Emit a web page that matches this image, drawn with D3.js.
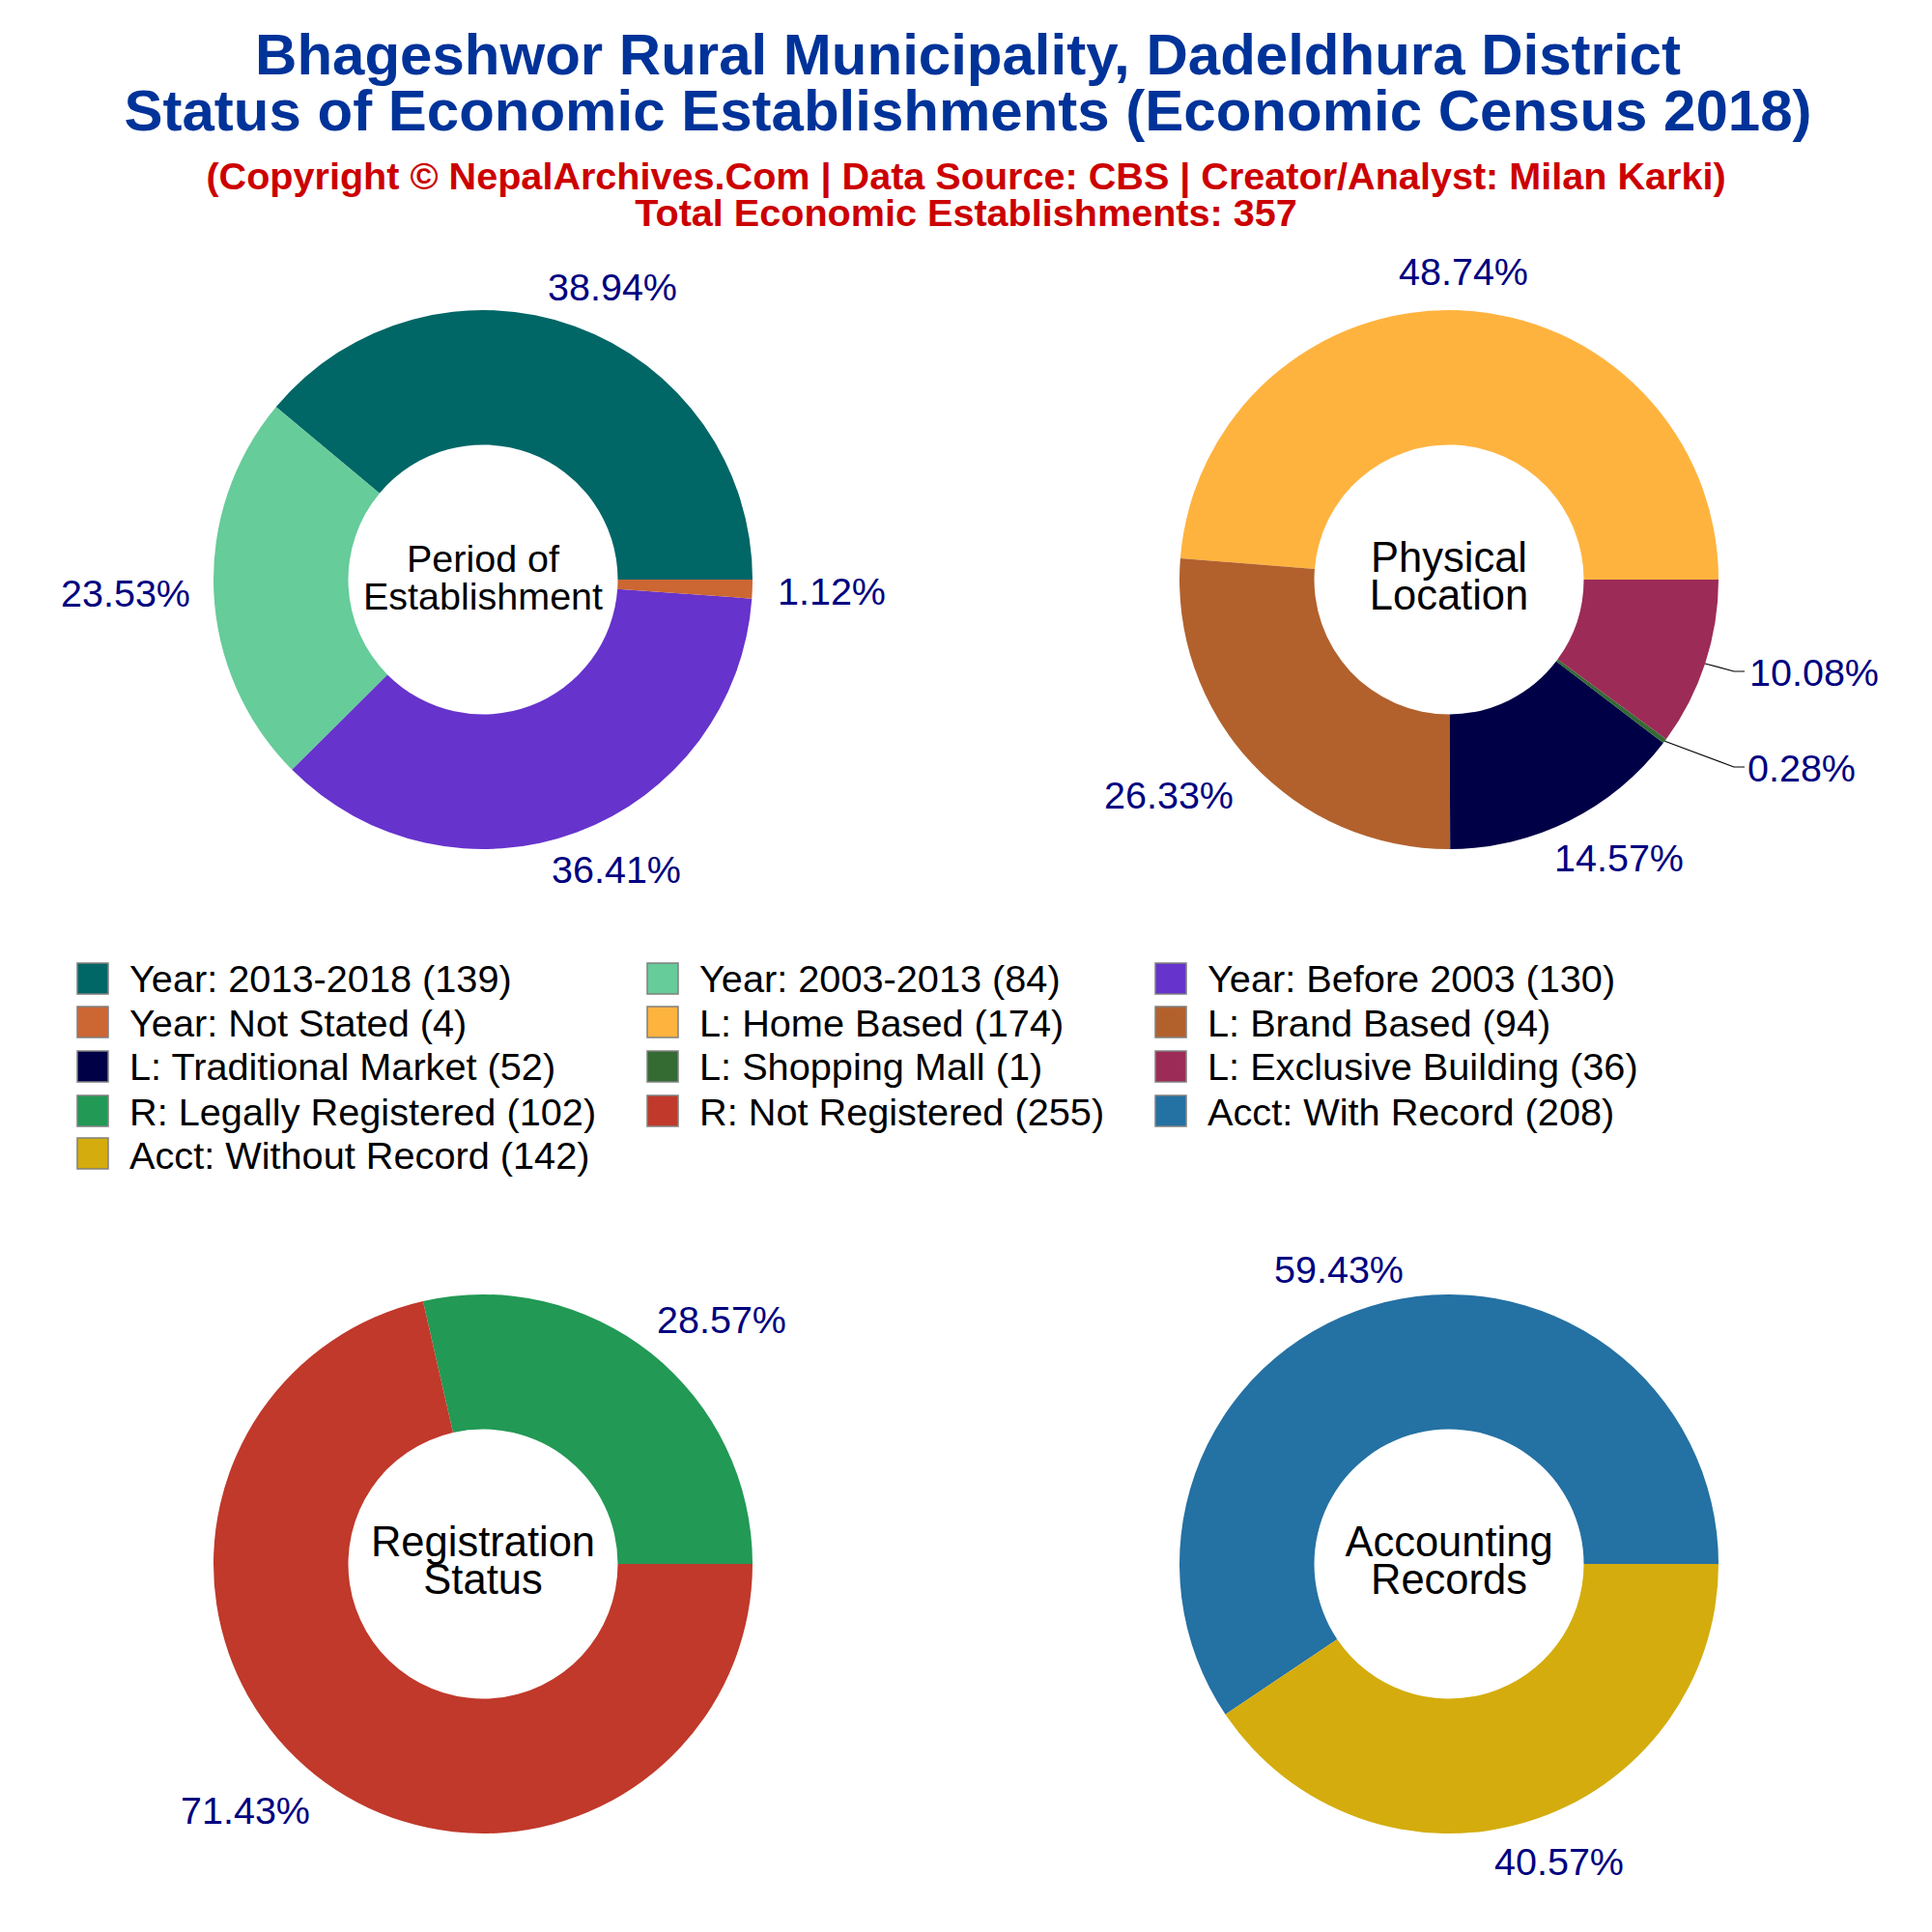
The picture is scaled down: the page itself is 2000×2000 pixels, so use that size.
<!DOCTYPE html>
<html><head><meta charset="utf-8">
<script src="https://cdnjs.cloudflare.com/ajax/libs/d3/7.8.5/d3.min.js"></script>
<style>html,body{margin:0;padding:0;background:#fff}svg{display:block}text{font-family:"Liberation Sans",Arial,sans-serif}</style>
</head><body><div id="c"></div>
<script>
const titleLines = ["Bhageshwor Rural Municipality, Dadeldhura District","Status of Economic Establishments (Economic Census 2018)"];
const subLines = ["(Copyright © NepalArchives.Com | Data Source: CBS | Creator/Analyst: Milan Karki)","Total Economic Establishments: 357"];

const periodLabels = ["Year: 2013-2018","Year: 2003-2013","Year: Before 2003","Year: Not Stated"];
const periodValues = [139,84,130,4];
const periodColors = ["#006666","#66CC99","#6633CC","#CC6633"];

const locationLabels = ["L: Home Based","L: Brand Based","L: Traditional Market","L: Shopping Mall","L: Exclusive Building"];
const locationValues = [174,94,52,1,36];
const locationColors = ["#FFB33F","#B2612D","#000047","#336B33","#9C2B57"];

const registrationLabels = ["R: Legally Registered","R: Not Registered"];
const registrationValues = [102,255];
const registrationColors = ["#229955","#C0392B"];

const accountLabels = ["Acct: With Record","Acct: Without Record"];
const accountValues = [208,142];
const accountColors = ["#2471A3","#D4AC0D"];

const periodCenter = ["Period of","Establishment"];
const locationCenter = ["Physical","Location"];
const registrationCenter = ["Registration","Status"];
const accountCenter = ["Accounting","Records"];

// layout only
const W=2000,H=2000,R=279,r0=139.5;
const panels=[
 {cx:500,cy:600,labels:periodLabels,values:periodValues,colors:periodColors,center:periodCenter,fs:39.5},
 {cx:1500,cy:600,labels:locationLabels,values:locationValues,colors:locationColors,center:locationCenter,fs:43.5,leader:[3,4]},
 {cx:500,cy:1619,labels:registrationLabels,values:registrationValues,colors:registrationColors,center:registrationCenter,fs:43.5},
 {cx:1500,cy:1619,labels:accountLabels,values:accountValues,colors:accountColors,center:accountCenter,fs:43.5}
];
// label centres relative to the pie centre
const labelCentres=[
 [[134,-303],[-370,14],[138,300],[361,12]],
 [[15,-319],[-290,223],[176,288],[365,195],[378,96]],
 [[247,-253],[-246,255]],
 [[-114,-305],[114,308]]
];
const svg=d3.select("#c").append("svg").attr("width",W).attr("height",H).attr("viewBox",`0 0 ${W} ${H}`);
svg.append("rect").attr("width",W).attr("height",H).attr("fill","#fff");

const tg=svg.append("g").attr("text-anchor","middle").attr("font-weight","bold");
tg.selectAll(".t").data(titleLines).join("text").attr("x",1002).attr("y",(d,i)=>77+i*58).attr("font-size",60).attr("fill","#003399").text(d=>d);
tg.selectAll(".s").data(subLines).join("text").attr("x",1000).attr("y",(d,i)=>196+i*38).attr("font-size",39.6).attr("fill","#CC0000").text(d=>d);

const pie=d3.pie().sort(null).startAngle(Math.PI/2).endAngle(Math.PI/2-2*Math.PI);
const arc=d3.arc().innerRadius(r0).outerRadius(R);
const fmt=(v,t)=>(100*v/t).toFixed(2)+"%";
panels.forEach((p,pi)=>{
  const g=svg.append("g").attr("transform",`translate(${p.cx},${p.cy})`);
  const color=d3.scaleOrdinal().domain(p.labels).range(p.colors);
  const total=d3.sum(p.values);
  const arcs=pie(p.values);
  g.selectAll("path.s").data(arcs).join("path").attr("class","s").attr("d",arc).attr("fill",(d,i)=>color(p.labels[i]));
  arcs.forEach((a,i)=>{
    const c=labelCentres[pi][i];
    g.append("text").attr("x",c[0]).attr("y",c[1]+14).attr("text-anchor","middle").attr("font-size",39.5).attr("fill","#000080").text(fmt(a.value,total));
    if(p.leader&&p.leader.includes(i)){
      const m=(a.startAngle+a.endAngle)/2;
      const ex=R*Math.sin(m),ey=-R*Math.cos(m);
      const lx=295,ly=c[1]-1;
      g.append("path").attr("d",`M${ex},${ey}L${lx},${ly}L${lx+11},${ly}`).attr("fill","none").attr("stroke","#000").attr("stroke-width",1.1);
    }
  });
  g.append("g").attr("text-anchor","middle").selectAll("text").data(p.center).join("text")
    .attr("x",0).attr("y",(d,i)=>-8+i*39).attr("font-size",p.fs).attr("fill","#000").text(d=>d);
});

// legend
const allLabels=[...periodLabels,...locationLabels,...registrationLabels,...accountLabels];
const allValues=[...periodValues,...locationValues,...registrationValues,...accountValues];
const allColors=[...periodColors,...locationColors,...registrationColors,...accountColors];
const colX=[80,670,1196],rowY=[997,1042,1088,1134,1178];
const rowText=[1027,1073,1118,1165,1210];
const lg=svg.append("g");
allLabels.forEach((l,i)=>{
  const x=colX[i%3],row=Math.floor(i/3);
  lg.append("rect").attr("x",x).attr("y",rowY[row]).attr("width",32).attr("height",32).attr("fill",allColors[i]).attr("stroke","#808080").attr("stroke-width",1.5);
  lg.append("text").attr("x",x+54).attr("y",rowText[row]).attr("font-size",39.7).attr("fill","#000").text(`${l} (${allValues[i]})`);
});
</script></body></html>
